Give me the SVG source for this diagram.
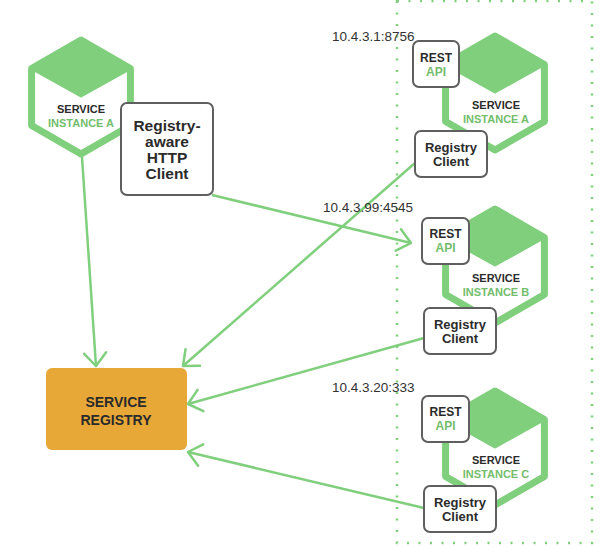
<svg xmlns="http://www.w3.org/2000/svg" width="603" height="548" viewBox="0 0 603 548">
<style>
.hex{fill:none;stroke:#80cf7c;stroke-width:7;stroke-linejoin:round}
.cap{fill:#80cf7c;stroke:#80cf7c;stroke-width:3;stroke-linejoin:round}
.box{fill:#fff;stroke:#5f5f5f;stroke-width:2}
.t{font-family:"Liberation Sans",Arial,sans-serif;font-weight:bold;text-anchor:middle;fill:#2b2b2b}
.g{fill:#74bd6c}
.ip{font-family:"Liberation Sans",Arial,sans-serif;font-size:13.5px;fill:#333}
.c{fill:none;stroke:#80cf7c;stroke-width:2.5}
</style>
<defs>
<marker id="ah" markerUnits="userSpaceOnUse" markerWidth="40" markerHeight="40" refX="0" refY="0" viewBox="-20 -20 40 40" orient="auto">
<path d="M-13,-11 L0,0 L-13,11" fill="none" stroke="#80cf7c" stroke-width="2.5" stroke-linecap="round" stroke-linejoin="round"/>
</marker>
<g id="hexshape">
<path class="hex" d="M0,-57 L49.4,-28.5 L49.4,28.5 L0,57 L-49.4,28.5 L-49.4,-28.5 Z"/>
<path class="cap" d="M0,-57 L49.4,-28.5 L0,-1 L-49.4,-28.5 Z"/>
</g>
</defs>
<rect x="397" y="1" width="195" height="542" fill="none" stroke="#80cf7c" stroke-width="2.5" stroke-dasharray="2 9.5"/>
<g id="connectors">
<line class="c" x1="82" y1="157" x2="96" y2="366" marker-end="url(#ah)"/>
<line class="c" x1="415" y1="163" x2="183" y2="366" marker-end="url(#ah)"/>
<line class="c" x1="424" y1="338" x2="188" y2="404" marker-end="url(#ah)"/>
<line class="c" x1="424" y1="508" x2="188" y2="452" marker-end="url(#ah)"/>
<line class="c" x1="212" y1="195" x2="411" y2="243" marker-end="url(#ah)"/>
</g>
<g id="serviceA">
<use href="#hexshape" x="81" y="97"/>
<text class="t" x="81" y="113" font-size="11">SERVICE</text>
<text class="t g" x="81" y="127" font-size="11">INSTANCE A</text>
</g>
<g id="httpClient">
<rect class="box" x="121" y="103" width="92" height="92" rx="6"/>
<text class="t" x="167" y="131" font-size="15.5">Registry-</text>
<text class="t" x="167" y="147" font-size="15.5">aware</text>
<text class="t" x="167" y="163" font-size="15.5">HTTP</text>
<text class="t" x="167" y="179" font-size="15.5">Client</text>
</g>
<g id="registry">
<rect x="46" y="368" width="141" height="82" rx="6" fill="#e8a838"/>
<text class="t" x="116" y="407" font-size="14">SERVICE</text>
<text class="t" x="116" y="425" font-size="14">REGISTRY</text>
</g>
<g id="instA">
<use href="#hexshape" x="495" y="93"/>
<text class="t" x="496" y="109" font-size="11">SERVICE</text>
<text class="t g" x="496" y="123" font-size="11">INSTANCE A</text>
<rect class="box" x="413" y="41" width="46" height="46" rx="6"/>
<text class="t" x="436" y="62" font-size="12">REST</text>
<text class="t g" x="436" y="76" font-size="12">API</text>
<rect class="box" x="415" y="131" width="72" height="46" rx="6"/>
<text class="t" x="451" y="152" font-size="13">Registry</text>
<text class="t" x="451" y="166" font-size="13">Client</text>
<text class="ip" x="332" y="41">10.4.3.1:8756</text>
</g>
<g id="instB">
<use href="#hexshape" x="495" y="266"/>
<text class="t" x="496" y="282" font-size="11">SERVICE</text>
<text class="t g" x="496" y="296" font-size="11">INSTANCE B</text>
<rect class="box" x="422" y="218" width="47" height="46" rx="6"/>
<text class="t" x="445.5" y="238" font-size="12">REST</text>
<text class="t g" x="445.5" y="252" font-size="12">API</text>
<rect class="box" x="424" y="308" width="72" height="46" rx="6"/>
<text class="t" x="460" y="329" font-size="13">Registry</text>
<text class="t" x="460" y="343" font-size="13">Client</text>
<text class="ip" x="323" y="212">10.4.3.99:4545</text>
</g>
<g id="instC">
<use href="#hexshape" x="495" y="448"/>
<text class="t" x="496" y="464" font-size="11">SERVICE</text>
<text class="t g" x="496" y="478" font-size="11">INSTANCE C</text>
<rect class="box" x="422" y="396" width="47" height="46" rx="6"/>
<text class="t" x="445.5" y="416" font-size="12">REST</text>
<text class="t g" x="445.5" y="430" font-size="12">API</text>
<rect class="box" x="424" y="486" width="72" height="46" rx="6"/>
<text class="t" x="460" y="507" font-size="13">Registry</text>
<text class="t" x="460" y="521" font-size="13">Client</text>
<text class="ip" x="332" y="392">10.4.3.20:333</text>
</g>
</svg>
